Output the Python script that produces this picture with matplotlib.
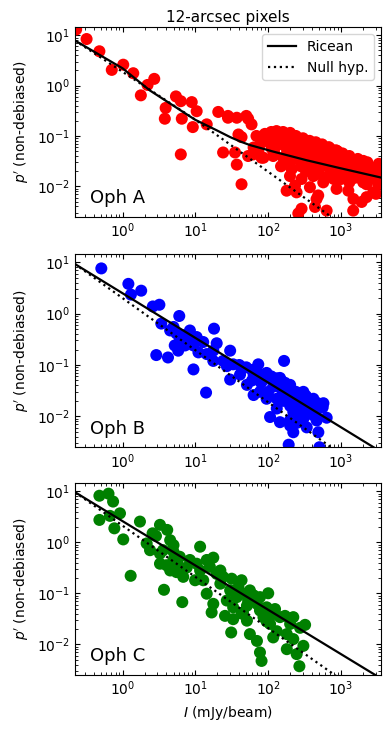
import numpy as np
import matplotlib
matplotlib.use("Agg")
import matplotlib.pyplot as plt

# ---- Oph A ----
I_A = [0.23, 0.32, 0.48, 0.71, 1.02, 1.4, 1.78, 2.2, 2.72, 5.4, 6.3, 3.9, 3.8, 6.5,
       8.9, 10.4, 9.2, 14.3, 6.3, 20.6, 28, 37, 53, 59, 43, 69, 24, 35, 53, 37, 43,
       81, 63,
       95, 117, 145, 179, 209, 105, 137, 170, 272, 287, 355, 416, 513, 634, 741, 869,
       1070, 1260, 2020, 3080, 62, 73, 86, 117, 161, 199, 245, 337, 461, 601, 703,
       869, 1190, 1640, 2240, 2770, 199, 287, 416, 570, 233, 374, 486, 869, 1260,
       1400, 1820, 179, 245, 199, 461, 439, 287, 259, 634, 1470, 1920, 2240, 3020,
       3240, 2020,
       126, 158, 224, 316, 398, 562, 708, 891, 1000, 1410, 251, 316, 501, 398, 282,
       794, 2240, 2820, 3310, 112, 79, 1480,
       90, 110, 130, 160, 200, 240, 300, 370, 450, 550, 680, 850, 1050, 1300, 1700,
       2300, 3300,
       100, 150, 200, 260, 330, 420, 520, 650, 800, 1000, 1250, 1600, 2000, 2600,
       3300,
       120, 180, 230, 300, 380, 480, 600, 750, 950, 1200, 1500, 1900, 2500,
       150, 210, 330, 500, 700, 1000, 1300,
       50, 39, 80, 28]
p_A = [13, 8.4, 4.8, 2.05, 2.6, 1.76, 0.64, 1.03, 1.36, 0.61, 0.49, 0.36, 0.22, 0.22,
       0.47, 0.31, 0.15, 0.17, 0.043, 0.30, 0.23, 0.23, 0.22, 0.17, 0.095, 0.10,
       0.047, 0.047, 0.040, 0.027, 0.011, 0.037, 0.059,
       0.100, 0.107, 0.111, 0.104, 0.086, 0.074, 0.068, 0.063, 0.086, 0.068, 0.059,
       0.050, 0.054, 0.047, 0.040, 0.037, 0.035, 0.032, 0.032, 0.024, 0.043, 0.050,
       0.037, 0.040, 0.037, 0.032, 0.035, 0.032, 0.028, 0.026, 0.022, 0.020, 0.0175,
       0.015, 0.011, 0.0076, 0.016, 0.014, 0.016, 0.012, 0.0103, 0.0096, 0.0066,
       0.0089, 0.0082, 0.014, 0.0175, 0.0082, 0.0076, 0.050, 0.0056, 0.0039, 0.0036,
       0.0029, 0.0033, 0.0033, 0.0049, 0.0061, 0.0071, 0.011, 0.012,
       0.089, 0.079, 0.071, 0.079, 0.066, 0.063, 0.056, 0.050, 0.028, 0.025, 0.050,
       0.045, 0.040, 0.022, 0.025, 0.014, 0.020, 0.016, 0.018, 0.056, 0.071, 0.0056,
       0.11, 0.12, 0.125, 0.12, 0.115, 0.10, 0.09, 0.08, 0.075, 0.068, 0.06, 0.052,
       0.045, 0.04, 0.035, 0.03, 0.028,
       0.08, 0.09, 0.08, 0.07, 0.065, 0.055, 0.05, 0.045, 0.04, 0.035, 0.03, 0.026,
       0.023, 0.02, 0.017,
       0.05, 0.045, 0.04, 0.04, 0.035, 0.032, 0.03, 0.028, 0.025, 0.022, 0.019,
       0.016, 0.014,
       0.025, 0.022, 0.02, 0.018, 0.016, 0.014, 0.012,
       0.25, 0.107, 0.095, 0.25]

# ---- Oph B ----
I_B = [0.51, 1.2, 1.3, 1.8, 2.6, 3.2, 3.4, 6.0, 5.0, 2.9, 4.2, 5.8, 6.1, 8.4, 8.0,
       10.4, 12.8, 11, 9.4, 14, 18, 19.6, 17.6, 30, 24, 33, 30, 45, 51, 73, 63, 95,
       165, 145, 117, 77, 63, 200, 221, 180, 304, 417, 573, 338, 246, 274, 463, 635,
       106, 145, 200, 221, 338, 488, 191, 505, 131, 95, 41,
       86, 131, 161, 246, 338, 417, 131, 221, 417, 304, 27, 17.6, 14.3, 9.4, 7.2,
       5.5, 4.5, 6.8, 5.2,
       50, 60, 70, 90, 110, 130, 150, 170, 200, 240, 280, 330, 400, 480, 560,
       120, 150, 190, 230, 270, 320, 380, 450, 160, 200, 260, 300, 200, 250,
       100, 80, 60, 40]
p_B = [7.6, 3.8, 2.35, 2.8, 1.38, 1.49, 0.64, 0.90, 0.55, 0.156, 0.14, 0.19, 0.30,
       0.47, 0.30, 0.35, 0.28, 0.176, 0.082, 0.029, 0.51, 0.265, 0.19, 0.19, 0.12,
       0.103, 0.052, 0.089, 0.041, 0.103, 0.065, 0.070, 0.12, 0.056, 0.038, 0.030,
       0.026, 0.041, 0.030, 0.022, 0.030, 0.022, 0.018, 0.0166, 0.0142, 0.0105,
       0.0083, 0.0094, 0.0097, 0.0077, 0.0066, 0.0049, 0.0061, 0.0049, 0.0028,
       0.0025, 0.0142, 0.022, 0.065,
       0.052, 0.045, 0.030, 0.022, 0.022, 0.0142, 0.022, 0.0122, 0.0105, 0.009,
       0.095, 0.12, 0.163, 0.24, 0.24, 0.41, 0.47, 0.38, 0.24,
       0.09, 0.08, 0.075, 0.065, 0.06, 0.055, 0.05, 0.045, 0.035, 0.03, 0.028,
       0.025, 0.02, 0.018, 0.015,
       0.04, 0.035, 0.028, 0.022, 0.018, 0.015, 0.013, 0.011, 0.02, 0.016, 0.012,
       0.01, 0.0085, 0.0075,
       0.03, 0.045, 0.05, 0.1]

# ---- Oph C ----
I_C = [0.48, 0.64, 0.74, 0.48, 0.67, 0.92, 0.77, 1.02, 1.29, 1.73, 2.58, 3.26, 2.87,
       4.1, 4.5, 5.0, 2.38, 3.26, 3.26, 4.0, 5.0, 4.5, 3.7, 6.6, 5.5, 7.6, 8.4, 11.6,
       14.3, 17.6, 10.4, 11.6, 9.9, 12.8, 19.6, 14.3, 17.6, 16.7, 25.5, 31.5, 43, 30,
       39, 27, 33, 33, 31, 45, 51, 56, 70, 77, 81, 56, 77, 100, 70, 95, 124, 86, 106,
       131, 117, 170, 221, 200, 274, 321, 180, 221, 304, 180, 246, 268,
       22, 24, 45, 37, 53, 63, 77, 51, 43, 145, 117, 95, 6.8, 5.8, 2.14, 3.6, 5.0,
       6.1, 15.8, 22]
p_C = [8.2, 9.0, 6.3, 2.75, 3.3, 3.7, 1.88, 1.14, 0.22, 2.55, 1.5, 2.2, 1.33, 1.75,
       1.1, 0.88, 0.70, 0.60, 0.38, 0.355, 0.45, 0.28, 0.117, 0.067, 0.26, 0.32,
       0.45, 0.82, 0.45, 0.50, 0.38, 0.28, 0.18, 0.18, 0.24, 0.098, 0.062, 0.042,
       0.036, 0.193, 0.18, 0.114, 0.132, 0.072, 0.053, 0.031, 0.017, 0.042, 0.029,
       0.0158, 0.0116, 0.0069, 0.0047, 0.114, 0.084, 0.10, 0.062, 0.053, 0.049,
       0.034, 0.025, 0.018, 0.0136, 0.036, 0.034, 0.025, 0.021, 0.024, 0.0158,
       0.0126, 0.0093, 0.008, 0.0064, 0.0037,
       0.154, 0.21, 0.098, 0.084, 0.072, 0.091, 0.046, 0.057, 0.040, 0.034, 0.039,
       0.028, 0.21, 0.355, 0.95, 0.70, 0.65, 0.52, 0.33, 0.28]

# model curves
ric_I_A = [0.22, 1.0, 2.37, 9.9, 19.5, 30, 41, 56, 117, 336, 966, 3500]
ric_p_A = [7.9, 2.2, 0.80, 0.21, 0.13, 0.095, 0.078, 0.066, 0.049, 0.033, 0.023, 0.015]
null_I_A = [0.22, 10, 1000]
null_p_A = [7.9, 0.21, 0.0018]

ric_I_B = [0.22, 2800]
ric_p_B = [9.3, 0.0025]
null_I_B = [0.22, 630, 1000]
null_p_B = [9.3, 0.0029, 0.0018]

ric_I_C = [0.22, 2940]
ric_p_C = [9.7, 0.0025]
null_I_C = [0.22, 785, 1000]
null_p_C = [9.7, 0.0026, 0.0020]

panels = [
    ("Oph A", I_A, p_A, "red", ric_I_A, ric_p_A, null_I_A, null_p_A),
    ("Oph B", I_B, p_B, "blue", ric_I_B, ric_p_B, null_I_B, null_p_B),
    ("Oph C", I_C, p_C, "green", ric_I_C, ric_p_C, null_I_C, null_p_C),
]

fig = plt.figure(figsize=(3.9, 7.32), dpi=100)
boxes = [[0.192, 0.704, 0.784, 0.259],
         [0.192, 0.389, 0.784, 0.264],
         [0.192, 0.078, 0.784, 0.262]]

for k, (name, I, p, col, ri, rp, ni, npv) in enumerate(panels):
    ax = fig.add_axes(boxes[k])
    ax.scatter(I, p, s=75, color=col, edgecolors="none", zorder=2)
    ax.plot(ri, rp, "k-", lw=1.6, label="Ricean", zorder=3)
    ax.plot(ni, npv, "k:", lw=1.6, label="Null hyp.", zorder=3)
    ax.set_xscale("log")
    ax.set_yscale("log")
    ax.set_xlim(0.221, 3500)
    ax.set_ylim(2.5e-3, 14.5)
    ax.tick_params(which="both", direction="in", top=True, right=True)
    ax.set_ylabel("$p'$ (non-debiased)")
    ax.text(0.05, 0.07, name, transform=ax.transAxes, fontsize=13)
    if k == 0:
        ax.set_title("12-arcsec pixels", fontsize=11, pad=4)
        ax.legend(loc="upper right", fontsize=10)
    if k == 2:
        ax.set_xlabel("$I$ (mJy/beam)")

fig.savefig("out.png", dpi=100)
